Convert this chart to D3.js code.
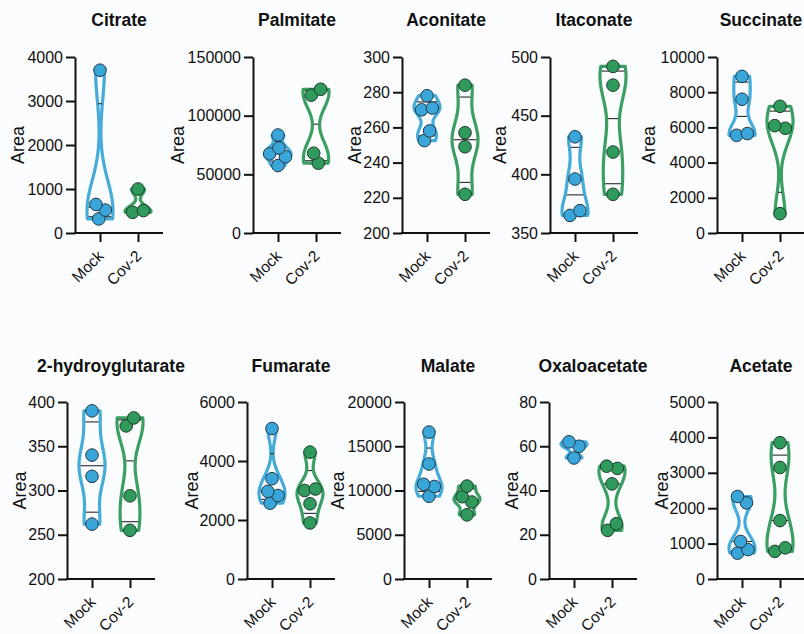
<!DOCTYPE html>
<html>
<head>
<meta charset="utf-8">
<script src="https://cdn.jsdelivr.net/npm/d3@7"></script>
<style>
  body { margin: 0; background: #fbfcfd; }
  text { font-family: "Liberation Sans", Arial, Helvetica, sans-serif; fill: #111; }
  .axis path, .axis line { stroke: #111; stroke-width: 2; }
</style>
</head>
<body>
<svg id="chart" width="804" height="634"></svg>
<script>
(function () {
  "use strict";

  var groups = ["Mock", "Cov-2"];
  var metabolites = ["Citrate", "Palmitate", "Aconitate", "Itaconate", "Succinate",
    "2-hydroyglutarate", "Fumarate", "Malate", "Oxaloacetate", "Acetate"];

  var mockValues = [
    [3700, 650, 520, 320],
    [83500, 72500, 67500, 65000, 57500],
    [278, 271, 270, 258, 252.5],
    [432, 396, 369, 365],
    [8900, 7600, 5650, 5550],
    [390, 340, 316, 262],
    [5100, 3400, 2970, 2830, 2570],
    [16600, 13000, 10700, 10450, 9350],
    [62, 60, 54.7],
    [2330, 2150, 1060, 830, 730]
  ];
  var covValues = [
    [1000, 510, 470],
    [122500, 117500, 68000, 59500],
    [284, 257, 249, 222],
    [492, 476, 419, 383],
    [7200, 6100, 5950, 1100],
    [382, 373, 294, 255],
    [4300, 3050, 3000, 2550, 1900],
    [10500, 9300, 8700, 7250],
    [51, 50, 43, 25, 22],
    [3850, 3150, 1650, 880, 780]
  ];
  var yTicks = [
    [0, 1000, 2000, 3000, 4000],
    [0, 50000, 100000, 150000],
    [200, 220, 240, 260, 280, 300],
    [350, 400, 450, 500],
    [0, 2000, 4000, 6000, 8000, 10000],
    [200, 250, 300, 350, 400],
    [0, 2000, 4000, 6000],
    [0, 5000, 10000, 15000, 20000],
    [0, 20, 40, 60, 80],
    [0, 1000, 2000, 3000, 4000, 5000]
  ];

  // panel placement (y axis x position, offset of the "Area" label)
  var axisX = [75, 253, 402, 550, 717, 67, 247, 404, 549, 717];
  var areaOffset = [57, 75, 47, 50, 68, 47, 55, 66, 37, 55];
  var rowTop = [57, 402], rowBottom = [233, 579], titleY = [26, 372];
  var plotW = 88, halfW = 13, dotR = 6.3;

  var lineColor = { "Mock": "#45abd9", "Cov-2": "#3b9e63" };
  var dotColor = { "Mock": "#3aa5d8", "Cov-2": "#2f9a5c" };
  var dotStroke = { "Mock": "#1f3a48", "Cov-2": "#1c3d2a" };

  var svg = d3.select("#chart");

  // quantile the (n+1)p way
  function quant(v, p) {
    var s = v.slice().sort(d3.ascending), n = s.length;
    var h = (n + 1) * p - 1;
    if (h <= 0) return s[0];
    if (h >= n - 1) return s[n - 1];
    var lo = Math.floor(h);
    return s[lo] + (h - lo) * (s[lo + 1] - s[lo]);
  }

  function kde(v, bw) {
    return function (y) {
      return d3.sum(v, function (x) { var u = (y - x) / bw; return Math.exp(-0.5 * u * u); });
    };
  }

  function swarm(v, y) {
    var nodes = v.slice().sort(d3.ascending).map(function (d, i) {
      return { value: d, fy: y(d), x: (i % 2 ? 1 : -1) };
    });
    var sim = d3.forceSimulation(nodes)
      .force("x", d3.forceX(0).strength(0.2))
      .force("c", d3.forceCollide(dotR - 0.8))
      .stop();
    for (var i = 0; i < 250; i++) sim.tick();
    return nodes;
  }

  metabolites.forEach(function (name, k) {
    var row = k < 5 ? 0 : 1;
    var top = rowTop[row], bottom = rowBottom[row];
    var ticks = yTicks[k];
    var g = svg.append("g").attr("transform", "translate(" + axisX[k] + ",0)");

    var y = d3.scaleLinear().domain([ticks[0], ticks[ticks.length - 1]]).range([bottom, top]);
    var x = d3.scalePoint().domain(groups).range([25, 63]);

    // violins
    [mockValues[k], covValues[k]].forEach(function (vals, gi) {
      var grp = groups[gi], cx = x(grp);
      var lo = d3.min(vals), hi = d3.max(vals);
      var bw = 0.42 * d3.deviation(vals);
      var f = kde(vals, bw);
      var ys = d3.range(61).map(function (i) { return lo + (hi - lo) * i / 60; });
      var dmax = d3.max(ys, f);
      var wOf = function (v) { return f(v) / dmax * halfW; };

      var area = d3.area()
        .y(function (d) { return y(d); })
        .x0(function (d) { return cx - wOf(d); })
        .x1(function (d) { return cx + wOf(d); })
        .curve(d3.curveCatmullRom);

      g.append("path")
        .datum(ys)
        .attr("d", area)
        .attr("fill", "none")
        .attr("stroke", lineColor[grp])
        .attr("stroke-width", 3.2)
        .attr("stroke-linejoin", "round");

      [0.25, 0.5, 0.75].forEach(function (p) {
        var q = quant(vals, p), w = Math.max(wOf(q) - 1.5, 2);
        g.append("line")
          .attr("x1", cx - w).attr("x2", cx + w)
          .attr("y1", y(q)).attr("y2", y(q))
          .attr("stroke", "#2a2a2a")
          .attr("stroke-width", 1.1);
      });

      g.selectAll(null)
        .data(swarm(vals, y))
        .enter().append("circle")
        .attr("cx", function (d) { return cx + d.x; })
        .attr("cy", function (d) { return d.fy; })
        .attr("r", dotR)
        .attr("fill", dotColor[grp])
        .attr("stroke", dotStroke[grp])
        .attr("stroke-width", 1);
    });

    // y axis
    g.append("g")
      .attr("class", "axis")
      .call(d3.axisLeft(y).tickValues(ticks).tickSize(9).tickSizeOuter(0).tickPadding(3).tickFormat(d3.format("d")))
      .call(function (a) { a.selectAll("text").attr("font-size", 16).attr("fill", "#111"); });

    // x axis
    var xa = g.append("g")
      .attr("class", "axis")
      .attr("transform", "translate(0," + bottom + ")")
      .call(d3.axisBottom(x).tickSize(9).tickSizeOuter(0));
    xa.select(".domain").remove();
    xa.append("line").attr("x1", -1).attr("x2", plotW).attr("stroke", "#111").attr("stroke-width", 2);
    xa.selectAll("text")
      .attr("font-size", 15.5)
      .attr("fill", "#111")
      .attr("text-anchor", "end")
      .attr("y", 0).attr("dy", 0)
      .attr("transform", "translate(4,24) rotate(-45)");

    // titles
    g.append("text")
      .attr("x", plotW / 2).attr("y", titleY[row])
      .attr("text-anchor", "middle")
      .attr("font-size", 17.5).attr("font-weight", "bold")
      .text(name);

    g.append("text")
      .attr("transform", "translate(" + (-areaOffset[k]) + "," + ((top + bottom) / 2) + ") rotate(-90)")
      .attr("text-anchor", "middle")
      .attr("dy", "0.35em")
      .attr("font-size", 18)
      .text("Area");
  });
}());
</script>
</body>
</html>
